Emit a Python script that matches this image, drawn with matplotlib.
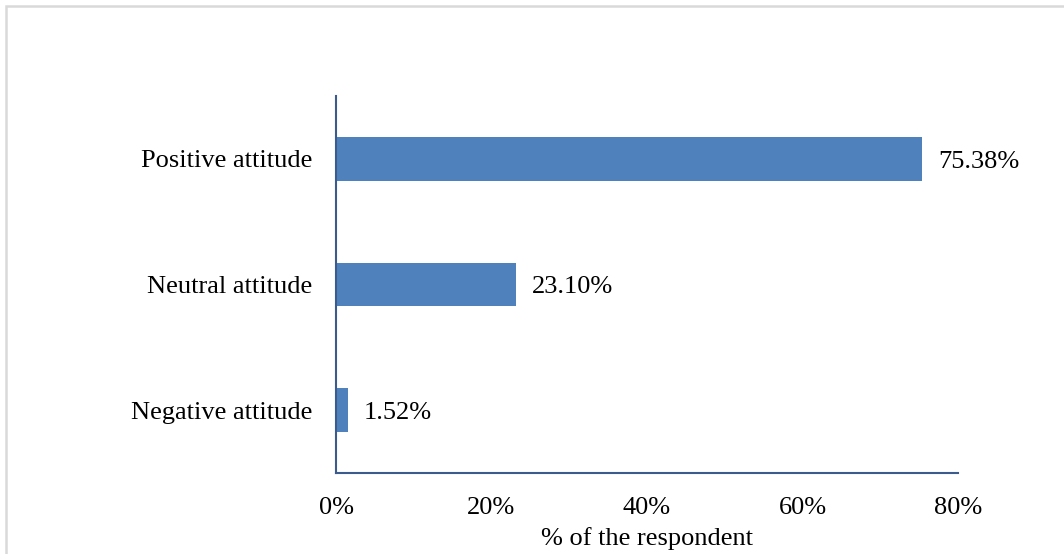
import matplotlib
matplotlib.use("Agg")
import matplotlib.pyplot as plt
from matplotlib.patches import Rectangle
from matplotlib.ticker import FuncFormatter

categories = ["Negative attitude", "Neutral attitude", "Positive attitude"]
shares = [1.52, 23.10, 75.38]
xTicks = [0, 20, 40, 60, 80]

plt.rcParams["font.family"] = ["Liberation Serif", "DejaVu Serif"]
plt.rcParams["font.size"] = 19

fig = plt.figure(figsize=(10.64, 5.54), dpi=100)
ax = fig.add_axes([336 / 1064, 1 - 473 / 554, 622 / 1064, 377 / 554])

barColor = "#4F81BD"
axisColor = "#3B5B8C"

positions = list(range(len(categories)))
ax.barh(positions, shares, height=0.35, color=barColor)

# value labels just past the end of each bar
for pos, val in zip(positions, shares):
    ax.annotate(f"{val:.2f}%", xy=(val, pos), xytext=(11.5, -2), textcoords="offset points",
                va="center", ha="left", color="black")

ax.set_xlim(0, 80)
ax.set_ylim(-0.5, 2.5)
ax.set_yticks(positions)
ax.set_yticklabels(categories)
ax.set_xticks(xTicks)
ax.xaxis.set_major_formatter(FuncFormatter(lambda v, _: f"{v:.0f}%"))
ax.tick_params(axis="both", length=0, colors="black")
ax.tick_params(axis="x", pad=17)
ax.tick_params(axis="y", pad=17)
ax.set_xlabel("% of the respondent", labelpad=6)

for side in ["top", "right"]:
    ax.spines[side].set_visible(False)
for side in ["left", "bottom"]:
    ax.spines[side].set_color(axisColor)
    ax.spines[side].set_linewidth(1.5)

# light frame around the chart area
frame = Rectangle((6 / 1064, -0.1), 1.2, 1.1 - 6 / 554, transform=fig.transFigure,
                  fill=False, edgecolor="#D9D9D9", linewidth=1.8, clip_on=False)
fig.patches.append(frame)

fig.savefig("out.png", dpi=100)
